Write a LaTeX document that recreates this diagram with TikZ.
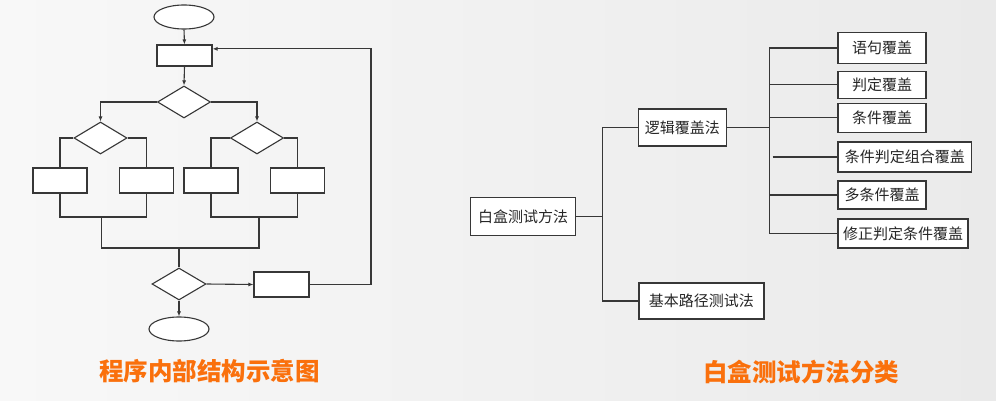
\documentclass[tikz,border=0pt]{standalone}
\usepackage{fontspec}
\newfontfamily\cjk{Noto Sans CJK SC}
\usetikzlibrary{shapes.geometric,arrows.meta,calc}
\definecolor{ln}{RGB}{55,55,55}
\definecolor{ttl}{RGB}{250,112,12}
\definecolor{bgl}{RGB}{248,248,248}
\definecolor{bgr}{RGB}{234,234,234}
\tikzset{
  fbox/.style={draw=ln,line width=1.1pt,fill=white,rectangle,inner sep=0pt},
  fdia/.style={draw=ln,line width=1.1pt,fill=white,diamond,inner sep=0pt,minimum width=53pt,minimum height=32pt},
  fell/.style={draw=ln,line width=1.1pt,fill=white,ellipse,inner sep=0pt,minimum width=60pt,minimum height=24pt},
  fl/.style={draw=ln,line width=1.1pt},
  fa/.style={fl,-{Latex[length=5pt,width=4pt]}},
  tbox/.style={draw=ln,line width=1.3pt,fill=white,rectangle,inner sep=0pt,font=\cjk\fontsize{15pt}{17pt}\selectfont,text=black!85},
  tl/.style={draw=ln,line width=1.1pt},
  title/.style={font=\cjk\bfseries\fontsize{24.5pt}{28pt}\selectfont,text=ttl}
}
\begin{document}
\begin{tikzpicture}[x=1pt,y=-1pt]
\shade[left color=bgl,right color=bgr] (0,0) rectangle (996,401);
\useasboundingbox (0,0) rectangle (996,401);
% ---------- flowchart ----------
\node[fell] (e1) at (184,17) {};
\node[fbox,minimum width=55pt,minimum height=21pt] (r1) at (184.5,55.5) {};
\node[fdia] (d1) at (184,102) {};
\node[fdia] (d2) at (100.5,138) {};
\node[fdia] (d3) at (257,138) {};
\node[fbox,minimum width=54pt,minimum height=25pt] (ra) at (60,180.5) {};
\node[fbox,minimum width=54pt,minimum height=25pt] (rb) at (146.5,180.5) {};
\node[fbox,minimum width=54pt,minimum height=25pt] (rc) at (211,180.5) {};
\node[fbox,minimum width=54pt,minimum height=25pt] (rd) at (297.5,180.5) {};
\node[fdia,minimum width=54pt] (d4) at (179,284) {};
\node[fbox,minimum width=55pt,minimum height=25pt] (r5) at (281.5,284.5) {};
\node[fell] (e2) at (179,329) {};
\coordinate (jab) at (101.7,217);
\coordinate (jcd) at (259,217);
\coordinate (jm) at (179,248);
\coordinate (back) at (371,284.5);
\draw[fa] (e1.south) -- (r1.north);
\draw[fa] (r1.south) -- (d1.north);
\draw[fa] (d1.west) -| (d2.north);
\draw[fa] (d1.east) -| (d3.north);
\draw[fl] (d2.west) -| (ra.north);
\draw[fl] (d2.east) -| (rb.north);
\draw[fl] (d3.west) -| (rc.north);
\draw[fl] (d3.east) -| (rd.north);
\draw[fl] (ra.south) |- (jab) -| (rb.south);
\draw[fl] (rc.south) |- (jcd) -| (rd.south);
\draw[fl] (jab) |- (jm) -| (jcd);
\draw[fl] (jm) -- (d4.north);
\draw[fa] (d4.east) -- (r5.west);
\draw[fa] (d4.south) -- (e2.north);
\draw[fa] (r5.east) -- (back) |- ($(r1.north east)!0.2!(r1.south east)$);
\node[title] (t1) at (209.5,371.5) {程序内部结构示意图};
% ---------- tree ----------
\node[tbox,minimum width=105pt,minimum height=38pt] (wb) at (523,216.7) {白盒测试方法};
\node[tbox,minimum width=88pt,minimum height=37pt] (lj) at (682.3,127.5) {逻辑覆盖法};
\node[tbox,minimum width=125pt,minimum height=36pt] (jb) at (701.4,301) {基本路径测试法};
\node[tbox,minimum width=88pt,minimum height=31pt] (c1) at (882,48) {语句覆盖};
\node[tbox,minimum width=88pt,minimum height=27pt] (c2) at (882,84.7) {判定覆盖};
\node[tbox,minimum width=88pt,minimum height=29pt] (c3) at (882,117.8) {条件覆盖};
\node[tbox,minimum width=133.5pt,minimum height=30pt] (c4) at (904.8,157) {条件判定组合覆盖};
\node[tbox,minimum width=88pt,minimum height=28pt] (c5) at (882,195) {多条件覆盖};
\node[tbox,minimum width=130pt,minimum height=29pt] (c6) at (903,233.5) {修正判定条件覆盖};
\coordinate (t1j) at (602.6,216.7);
\coordinate (t2j) at (769.5,127.5);
\draw[tl] (wb.east) -- (t1j);
\draw[tl] (lj.west) -| (t1j) |- (jb.west);
\draw[tl] (lj.east) -- (t2j);
\draw[tl] (c1.west) -| (t2j) |- (c6.west);
\draw[tl] (t2j |- c2.west) -- (c2.west);
\draw[tl] (t2j |- c3.west) -- (c3.west);
\draw[tl] ([xshift=3pt]t2j |- c4.west) -- (c4.west);
\draw[tl] (t2j |- c5.west) -- (c5.west);
\node[title] (t2) at (801,372.3) {白盒测试方法分类};
\end{tikzpicture}
\end{document}
